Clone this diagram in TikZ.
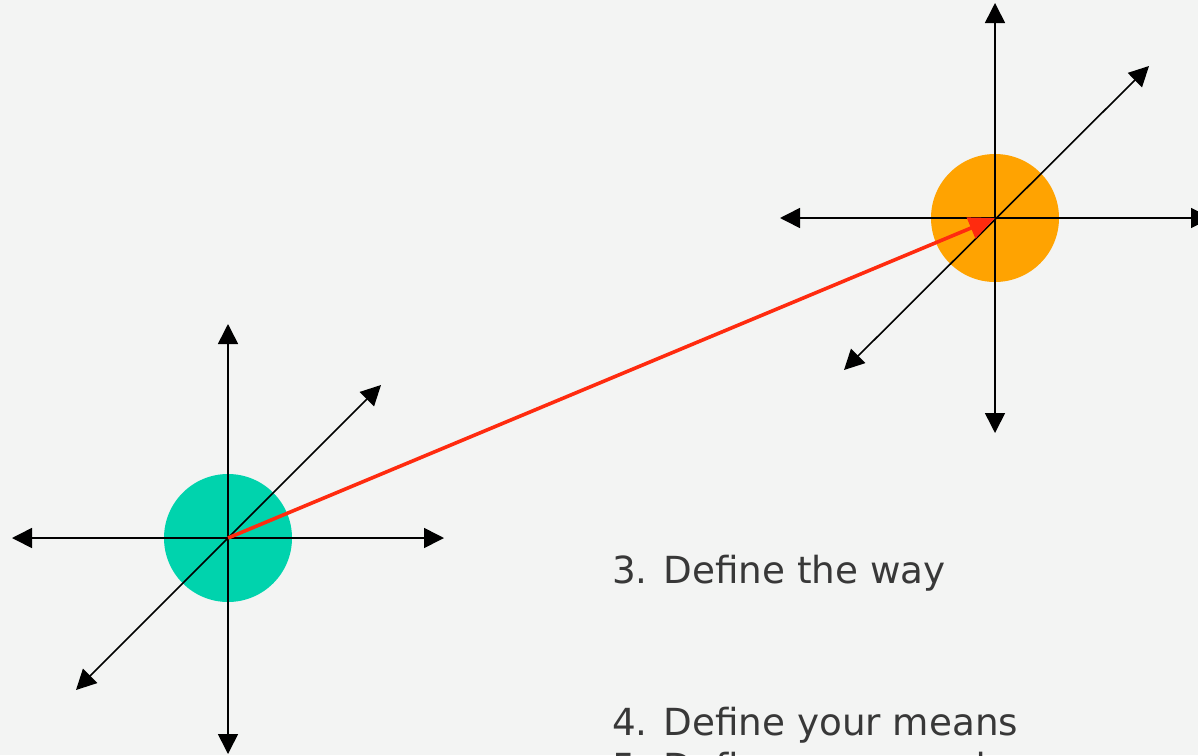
\documentclass[tikz,border=0pt]{standalone}
\usepackage{fontspec}
\setmainfont{DejaVu Sans}
\usetikzlibrary{arrows.meta}
\definecolor{bgc}{HTML}{F3F4F3}
\definecolor{hubgreen}{HTML}{00D3AD}
\definecolor{huborange}{HTML}{FFA301}
\definecolor{wayred}{HTML}{FF2B0F}
\definecolor{txt}{HTML}{383838}
\tikzset{
  hub/.style={circle, inner sep=0pt, minimum size=128pt, draw=none},
  axis/.style={line width=1.6pt, black, {Triangle[length=20pt,width=20pt]}-{Triangle[length=20pt,width=20pt]}},
  wayarrow/.style={line width=3.6pt, wayred, -{Triangle[length=26pt,width=22pt]}},
  label/.style={anchor=base west, inner sep=0pt, text=txt, font=\fontsize{37.3}{45}\selectfont}
}
\begin{document}
\begin{tikzpicture}[x=1pt,y=-1pt]
\fill[bgc] (0,0) rectangle (1198,755);
\useasboundingbox (0,0) rectangle (1198,755);
% hubs
\node[hub, fill=hubgreen] (g) at (228,538) {};
\node[hub, fill=huborange] (o) at (995,218) {};
% green axes ends
\coordinate (gW) at (12,538);
\coordinate (gE) at (444,538);
\coordinate (gN) at (228,324);
\coordinate (gS) at (228,754);
\coordinate (gNE) at (381,385);
\coordinate (gSW) at (76,690);
% orange axes ends
\coordinate (oW) at (780,218);
\coordinate (oE) at (1211,218);
\coordinate (oN) at (995,3);
\coordinate (oS) at (995,433);
\coordinate (oNE) at (1149,66);
\coordinate (oSW) at (844,370);
\draw[axis] (gW) -- (gE);
\draw[axis] (gS) -- (gN);
\draw[axis] (gSW) -- (gNE);
\draw[axis] (oW) -- (oE);
\draw[axis] (oS) -- (oN);
\draw[axis] (oSW) -- (oNE);
% the way
\draw[wayarrow] (g.center) -- (o.center);
% texts
\node[label] (t3) at (612,583) {3. Define the way};
\node[label] (t4) at (612,735) {4. Define your means};
\node[label] (t5) at (612,780) {5. Define your needs};
\end{tikzpicture}
\end{document}
